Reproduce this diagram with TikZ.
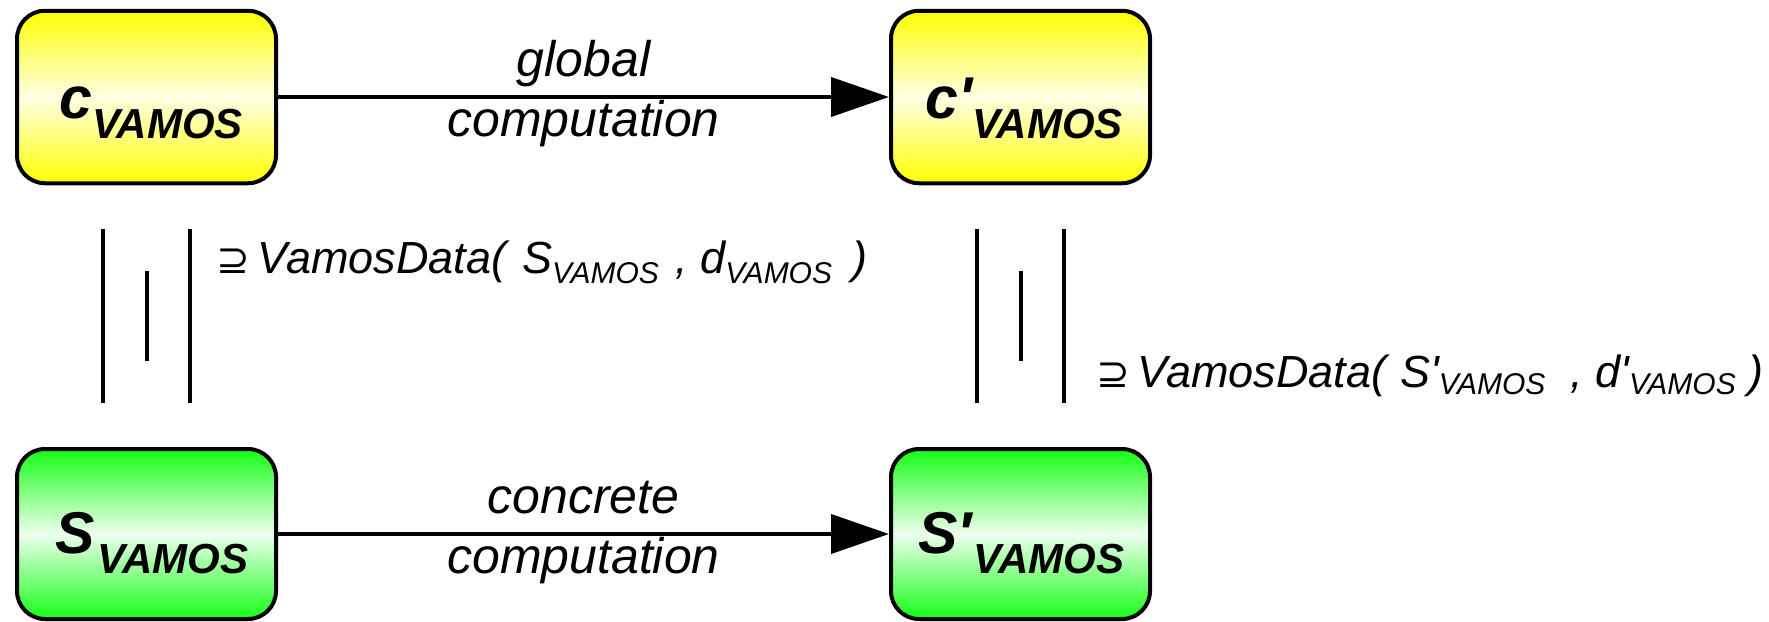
\documentclass[tikz,border=0pt]{standalone}
\usepackage{fontspec}
\newfontfamily\arial{Liberation Sans}
\newfontfamily\dejavu{DejaVu Sans}
\usetikzlibrary{arrows.meta,calc}
\definecolor{yel}{RGB}{255,255,0}
\definecolor{yelmid}{RGB}{255,255,228}
\definecolor{grn}{RGB}{20,255,20}
\definecolor{grnmid}{RGB}{238,255,238}
\newcommand\bigtxt{\arial\bfseries\itshape\fontsize{59}{59}\selectfont}
\newcommand\boxsub[1]{\raisebox{-20pt}{\fontsize{42}{42}\selectfont #1}}
\newcommand\lblfont{\arial\itshape\fontsize{45}{45}\selectfont}
\newcommand\arrfont{\arial\itshape\fontsize{50}{50}\selectfont}
\newcommand\lsub[2]{\raisebox{-#1pt}{\fontsize{30}{30}\selectfont #2}}
\newcommand\supeq{{\dejavu\upshape\fontsize{40}{40}\selectfont ⊇}}
\begin{document}
\begin{tikzpicture}[x=1pt,y=-1pt,
  box/.style={draw=black, line width=4pt, rounded corners=28pt,
    minimum width=259pt, inner sep=0pt},
  ybox/.style={box, minimum height=172.5pt, top color=yel, bottom color=yel, middle color=yelmid},
  gbox/.style={box, minimum height=170pt, top color=grn, bottom color=grn, middle color=grnmid},
  boxtext/.style={anchor=base west, inner sep=0pt, font=\bigtxt},
  arr/.style={line width=4pt, -{Triangle[length=58pt, width=39pt]}},
  arrlbl/.style={anchor=base, inner sep=0pt, font=\arrfont},
  incl/.style={line width=4pt},
  datalbl/.style={anchor=base west, inner sep=0pt, font=\lblfont}]
\useasboundingbox (0,0) rectangle (1769,621);

% boxes
\node[ybox] (c)  at (146.5,97) {};
\node[ybox] (cp) at (1020.5,97) {};
\node[gbox] (s)  at (146.5,534) {};
\node[gbox] (sp) at (1020.5,534) {};

% box texts
\node[boxtext] (ct)  at (59,118)  {c\boxsub{VAMOS}};
\node[boxtext] (cpt) at (925,118) {c'\boxsub{VAMOS}};
\node[boxtext] (st)  at (55,553)  {S\kern3pt\boxsub{VAMOS}};
\node[boxtext] (spt) at (918,553) {S′\kern2pt\boxsub{VAMOS}};

% arrows
\draw[arr] (c) -- node[arrlbl, yshift=21pt] (g1) {global}
                  node[arrlbl, yshift=-39pt] (g2) {computation} (cp);
\draw[arr] (s) -- node[arrlbl, yshift=21pt] (k1) {concrete}
                  node[arrlbl, yshift=-39pt] (k2) {computation} (sp);

% inclusion symbols
\draw[incl] (103,229) -- (103,403);
\draw[incl] (190,229) -- (190,403);
\draw[incl] (147,271) -- (147,361);
\draw[incl] (977,229) -- (977,403);
\draw[incl] (1064,229) -- (1064,403);
\draw[incl] (1021,271) -- (1021,361);

% data labels
\node[datalbl] (d1) at (216,273)
  {\supeq\hspace{8pt}VamosData(\hspace{16pt}S\lsub{10}{VAMOS}\hspace{4pt} , d\lsub{10}{VAMOS}\hspace{8pt} )};
\node[datalbl] (d2) at (1096,387)
  {\supeq\hspace{8pt}VamosData(\hspace{14pt}S'\lsub{7}{VAMOS}\ \ , d'\lsub{7}{VAMOS} )};
\end{tikzpicture}
\end{document}
